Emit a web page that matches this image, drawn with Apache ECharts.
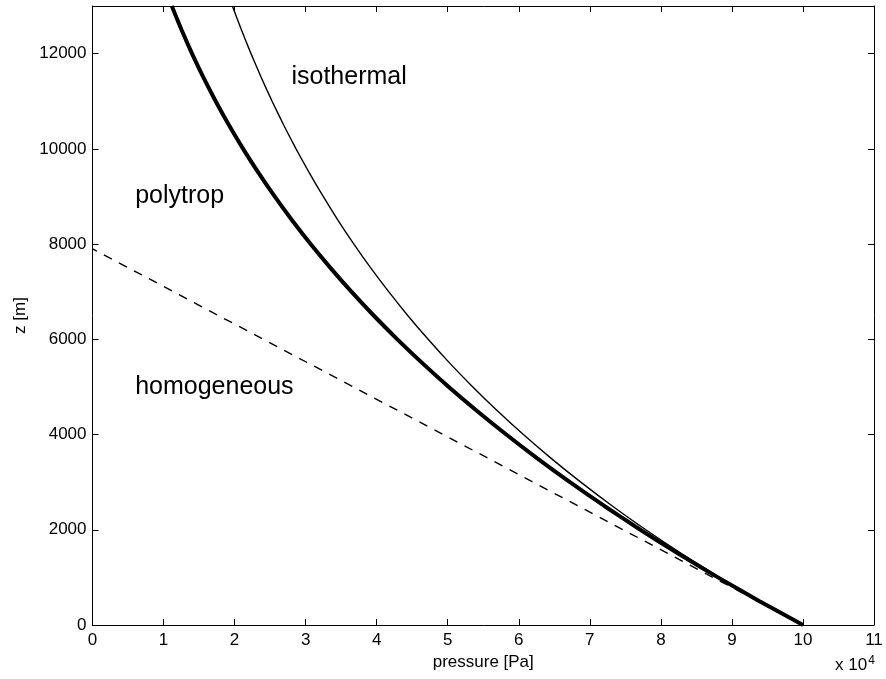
<!DOCTYPE html>
<html><head><meta charset="utf-8">
<script src="https://cdn.jsdelivr.net/npm/echarts@6/dist/echarts.min.js"></script>
<style>html,body{margin:0;padding:0;background:#fff}#c{width:886px;height:679px}</style>
</head><body><div id="c"></div>
<script>
// heights z [m]
const heights = [0,500,1000,1500,2000,2500,3000,3500,4000,4500,5000,5500,6000,6500,7000,7500,8000,8500,9000,9500,10000,10500,11000,11500,12000,12500,13000];
// pressure (x 10^4 Pa)
const isothermalP = [10,9.394,8.825,8.290,7.788,7.316,6.873,6.456,6.065,5.698,5.353,5.028,4.724,4.437,4.169,3.916,3.679,3.456,3.247,3.050,2.865,2.691,2.528,2.375,2.231,2.096,1.969];
const polytropP = [10,9.388,8.803,8.244,7.711,7.204,6.720,6.260,5.824,5.409,5.015,4.643,4.291,3.958,3.644,3.349,3.070,2.809,2.564,2.335,2.120,1.920,1.734,1.561,1.401,1.253,1.116];
const homogeneousP = [10, 0];
const homogeneousZ = [0, 7900];
const labels = [
  {name:'isothermal', p:2.8, z:11500},
  {name:'polytrop', p:0.6, z:9000},
  {name:'homogeneous', p:0.6, z:5000}
];
const xTicks = {min:0, max:11, interval:1};
const yTicks = {min:0, max:13000, interval:2000};

const font = 'Liberation Sans, Arial, Helvetica, sans-serif';
const chart = echarts.init(document.getElementById('c'));
const pair = (xs, ys) => xs.map((x,i)=>[x, ys[i]]);
const axisLineS = {show:true, onZero:false, lineStyle:{color:'#000', width:1}};
const tickS = {show:true, inside:true, length:6, lineStyle:{color:'#000'}};
chart.setOption({
  animation:false,
  backgroundColor:'#fff',
  grid:{left:92.5, right:12, top:6, bottom:54},
  xAxis:[
    {type:'value', position:'bottom', min:xTicks.min, max:xTicks.max, interval:xTicks.interval,
     axisLine:axisLineS, axisTick:tickS, splitLine:{show:false},
     axisLabel:{color:'#000', fontSize:17, fontFamily:font, margin:7},
     name:'pressure [Pa]', nameLocation:'middle', nameGap:27,
     nameTextStyle:{color:'#000', fontSize:17, fontFamily:font}},
    {type:'value', position:'top', min:xTicks.min, max:xTicks.max, interval:xTicks.interval,
     axisLine:axisLineS, axisTick:tickS, splitLine:{show:false}, axisLabel:{show:false}}
  ],
  yAxis:[
    {type:'value', position:'left', min:yTicks.min, max:yTicks.max, interval:yTicks.interval,
     axisLine:axisLineS, axisTick:{show:true, inside:true, length:6, lineStyle:{color:'#000'}, customValues:[0,2000,4000,6000,8000,10000,12000]},
     splitLine:{show:false},
     axisLabel:{color:'#000', fontSize:17, fontFamily:font, margin:6,
       formatter:v => (v % yTicks.interval === 0 ? String(v) : '')},
     name:'z [m]', nameLocation:'middle', nameGap:54,
     nameTextStyle:{color:'#000', fontSize:17, fontFamily:font}},
    {type:'value', position:'right', min:yTicks.min, max:yTicks.max, interval:yTicks.interval,
     axisLine:axisLineS, axisTick:tickS, splitLine:{show:false}, axisLabel:{show:false}}
  ],
  series:[
    {type:'line', data:pair(isothermalP, heights), smooth:0.2, showSymbol:false, symbol:'none',
     lineStyle:{color:'#000', width:1.4}},
    {type:'line', data:pair(polytropP, heights), smooth:0.2, showSymbol:false, symbol:'none',
     lineStyle:{color:'#000', width:4}},
    {type:'line', data:pair(homogeneousP, homogeneousZ), showSymbol:false, symbol:'none',
     lineStyle:{color:'#000', width:1.4, type:[9,8]}},
    {type:'scatter', symbolSize:0, silent:true, itemStyle:{opacity:1, color:'#000'},
     data:labels.map(l=>({name:l.name, value:[l.p, l.z]})),
     label:{show:true, position:'right', distance:0, formatter:p=>p.name, opacity:1,
       color:'#000', fontSize:25, fontFamily:font}}
  ],
  graphic:[
    {type:'text', left:835, top:655,
     style:{text:'x 10{s|4}', rich:{s:{fontSize:12, fontFamily:font, fill:'#000', verticalAlign:'top', padding:[0,0,9,1]}},
       fill:'#000', fontSize:17, fontFamily:font}}
  ]
});
</script></body></html>
